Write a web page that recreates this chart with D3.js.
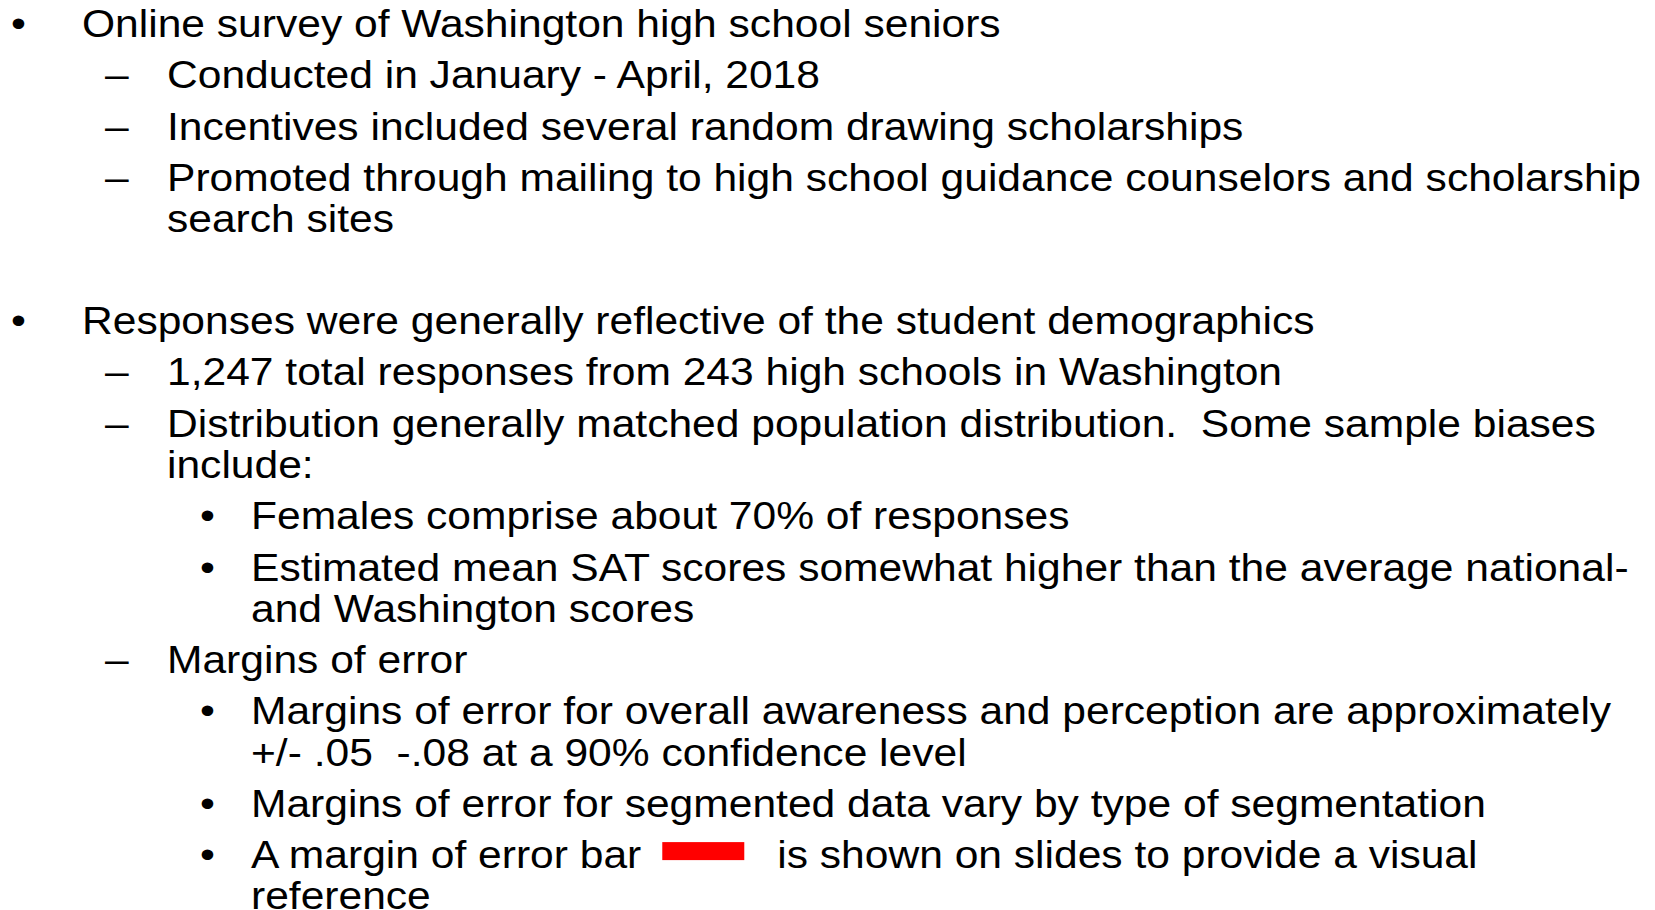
<!DOCTYPE html>
<html>
<head>
<meta charset="utf-8">
<script src="https://cdn.jsdelivr.net/npm/d3@7"></script>
<style>
  html, body { margin: 0; padding: 0; background: #fff; }
  svg { display: block; }
</style>
</head>
<body>
<svg id="slide" width="1655" height="910"></svg>
<script>
// Slide content: level (1 = bullet, 2 = dash, 3 = sub-bullet), then wrapped lines
const levels = [1, 2, 2, 2, 1, 2, 2, 3, 3, 2, 3, 3, 3];
const paragraphStart = [true, false, false, false, true, false, false, false, false, false, false, false, false];
const itemLines = [
  ["Online survey of Washington high school seniors"],
  ["Conducted in January - April, 2018"],
  ["Incentives included several random drawing scholarships"],
  ["Promoted through mailing to high school guidance counselors and scholarship", "search sites"],
  ["Responses were generally reflective of the student demographics"],
  ["1,247 total responses from 243 high schools in Washington"],
  ["Distribution generally matched population distribution.  Some sample biases", "include:"],
  ["Females comprise about 70% of responses"],
  ["Estimated mean SAT scores somewhat higher than the average national-", "and Washington scores"],
  ["Margins of error"],
  ["Margins of error for overall awareness and perception are approximately", "+/- .05  -.08 at a 90% confidence level"],
  ["Margins of error for segmented data vary by type of segmentation"],
  ["A margin of error bar |BAR| is shown on slides to provide a visual", "reference"]
];
const markers = ["", "\u2022", "\u2013", "\u2022"];

const svg = d3.select("#slide");
const fontSize = 39.5;
const stretch = 1.078;
const font = "'Liberation Sans', Arial, Helvetica, sans-serif";

const markerX = d3.scaleOrdinal().domain([1, 2, 3]).range([11, 105, 200]);
const textX = d3.scaleOrdinal().domain([1, 2, 3]).range([82, 167, 251]);

// Compute baselines
const firstBaseline = 37;
const itemStep = 51.3;
const wrapStep = 41.2;
const paraGap = 102;
let y = null;
const rows = [];
itemLines.forEach((lines, i) => {
  if (y === null) y = firstBaseline;
  else if (paragraphStart[i]) y += paraGap;
  else y += itemStep;
  lines.forEach((ln, j) => {
    if (j > 0) y += wrapStep;
    rows.push({ level: levels[i], text: ln, y: y, marker: j === 0 ? markers[levels[i]] : "" });
  });
});

const g = svg.append("g")
  .attr("font-family", font)
  .attr("font-size", fontSize)
  .attr("fill", "#000");

// markers
g.selectAll("text.marker")
  .data(rows.filter(r => r.marker))
  .join("text")
  .attr("class", "marker")
  .attr("transform", d => `translate(${markerX(d.level)},${d.y}) scale(${stretch},1)`)
  .text(d => d.marker);

function addText(x, yy, s) {
  return g.append("text")
    .attr("transform", `translate(${x},${yy}) scale(${stretch},1)`)
    .attr("xml:space", "preserve")
    .style("white-space", "pre")
    .text(s);
}

// body text
rows.forEach(r => {
  if (r.text.includes("|BAR|")) {
    const parts = r.text.split("|BAR|");
    const t1 = addText(textX(r.level), r.y, parts[0].trimEnd());
    const end1 = textX(r.level) + t1.node().getComputedTextLength() * stretch;
    const barX = end1 + 21;
    const barW = 82;
    svg.append("rect")
      .attr("x", barX)
      .attr("y", r.y - 26)
      .attr("width", barW)
      .attr("height", 18)
      .attr("fill", "#ff0000");
    addText(barX + barW + 33, r.y, parts[1].trimStart());
  } else {
    addText(textX(r.level), r.y, r.text);
  }
});
</script>
</body>
</html>
